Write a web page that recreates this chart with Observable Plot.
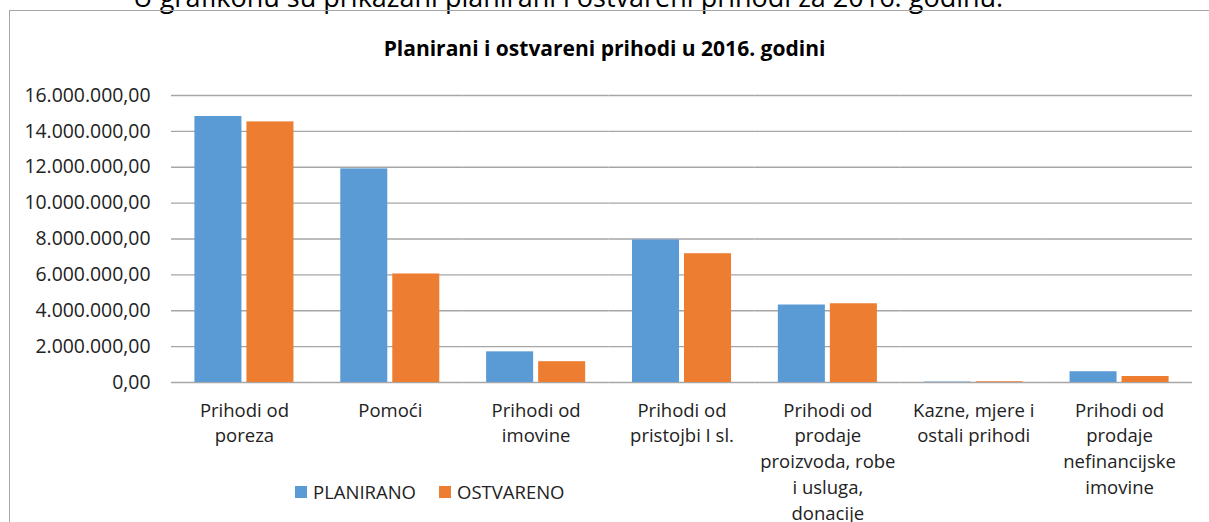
<!DOCTYPE html>
<html>
<head>
<meta charset="utf-8">
<script src="https://cdn.jsdelivr.net/npm/d3@7"></script>
<script src="https://cdn.jsdelivr.net/npm/@observablehq/plot@0.6"></script>
<style>
  html, body { margin: 0; padding: 0; background: #fff; }
  #wrap { position: relative; width: 1209px; height: 522px; overflow: hidden; font-family: "Open Sans", sans-serif; color: #222; }
  #intro { position: absolute; left: 133px; top: -17px; font-size: 27px; line-height: 27px; white-space: nowrap; color: #000; }
  #frame { position: absolute; left: 9px; top: 10px; width: 1400px; height: 800px; border-left: 1.5px solid #a6a6a6; border-top: 1.5px solid #a6a6a6; }
  #title { position: absolute; left: 0; width: 1209px; top: 37.5px; text-align: center; font-weight: bold; font-size: 21px; line-height: 21px; color: #000; }
  #chart { position: absolute; left: 0; top: 0; }
  #legend { position: absolute; left: 295px; top: 482px; display: flex; align-items: center; font-size: 18.5px; line-height: 20px; }
  .item { display: flex; align-items: center; margin-right: 23px; }
  .sw { width: 12px; height: 12px; margin-right: 6px; }
</style>
</head>
<body>
<div id="wrap">
  <div id="intro">U grafikonu su prikazani planirani i ostvareni prihodi za 2016. godinu.</div>
  <div id="frame"></div>
  <div id="chart"></div>
  <div id="title"></div>
  <div id="legend"></div>
</div>
<script>
const titleText = "Planirani i ostvareni prihodi u 2016. godini";
const categories = [
  "Prihodi od poreza",
  "Pomoći",
  "Prihodi od imovine",
  "Prihodi od pristojbi I sl.",
  "Prihodi od prodaje proizvoda, robe i usluga, donacije",
  "Kazne, mjere i ostali prihodi",
  "Prihodi od prodaje nefinancijske imovine"
];
const categoryLabels = [
  "Prihodi od\nporeza",
  "Pomoći",
  "Prihodi od\nimovine",
  "Prihodi od\npristojbi I sl.",
  "Prihodi od\nprodaje\nproizvoda, robe\ni usluga,\ndonacije",
  "Kazne, mjere i\nostali prihodi",
  "Prihodi od\nprodaje\nnefinancijske\nimovine"
];
const series = ["PLANIRANO", "OSTVARENO"];
const planirano = [14830000, 11910000, 1710000, 7950000, 4320000, 25000, 600000];
const ostvareno = [14530000, 6050000, 1160000, 7180000, 4390000, 40000, 335000];
const yTicks = [0, 2000000, 4000000, 6000000, 8000000, 10000000, 12000000, 14000000, 16000000];
const colors = ["#5B9BD5", "#ED7D31"];

const data = [];
categories.forEach((c, i) => {
  data.push({category: c, series: series[0], value: planirano[i]});
  data.push({category: c, series: series[1], value: ostvareno[i]});
});

const hr = d3.formatLocale({decimal: ",", thousands: ".", grouping: [3], currency: ["", ""]});
const fmt = hr.format(",.2f");

document.getElementById("title").textContent = titleText;

const plot = Plot.plot({
  width: 1209,
  height: 522,
  marginLeft: 171,
  marginRight: 17,
  marginTop: 95,
  marginBottom: 140,
  style: {fontFamily: "Open Sans", fontSize: "18.5px", color: "#222", background: "transparent", overflow: "visible"},
  fx: {domain: categories, padding: 0, round: false, label: null},
  x: {domain: series, axis: null, paddingInner: 0.096, paddingOuter: 0.45, round: false},
  y: {domain: [0, 16000000], label: null},
  color: {domain: series, range: colors},
  marks: [
    Plot.ruleY(yTicks, {stroke: "#a6a6a6", strokeWidth: 1.3}),
    Plot.barY(data, {fx: "category", x: "series", y: "value", fill: "series"}),
    Plot.axisY({ticks: yTicks, tickFormat: fmt, tickSize: 0, tickPadding: 21, label: null, fill: "#222", fontSize: 19.4}),
    Plot.axisFx({anchor: "bottom", tickSize: 0, tickPadding: 16, label: null, lineHeight: 1.39, fill: "#222", fontSize: 18.5,
      tickFormat: d => categoryLabels[categories.indexOf(d)]})
  ]
});
document.getElementById("chart").appendChild(plot);

const legend = document.getElementById("legend");
series.forEach((s, i) => {
  const item = document.createElement("div");
  item.className = "item";
  const sw = document.createElement("div");
  sw.className = "sw";
  sw.style.background = colors[i];
  const t = document.createElement("span");
  t.textContent = s;
  item.appendChild(sw);
  item.appendChild(t);
  legend.appendChild(item);
});
</script>
</body>
</html>
